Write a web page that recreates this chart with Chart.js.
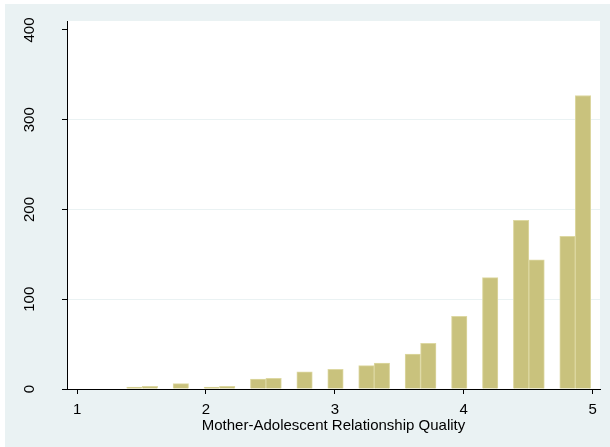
<!DOCTYPE html>
<html>
<head>
<meta charset="utf-8">
<script src="https://cdn.jsdelivr.net/npm/chart.js@4.4.0/dist/chart.umd.min.js"></script>
<style>
  html, body { margin: 0; padding: 0; background: #fff; }
  #wrap { width: 610px; height: 447px; position: relative; }
</style>
</head>
<body>
<div id="wrap"><canvas id="chart_histogram"></canvas></div>
<script>
// bin midpoints (width 0.12) and frequencies
var binCenters = [1.445, 1.565, 1.805, 2.045, 2.165, 2.405, 2.525, 2.765, 3.005, 3.245,
                  3.365, 3.605, 3.725, 3.965, 4.205, 4.445, 4.565, 4.805, 4.925];
var frequencies = [2, 3, 6, 2, 3, 11, 12, 19, 22, 26,
                   29, 39, 51, 81, 124, 188, 144, 170, 327];
var xTicks = [1, 2, 3, 4, 5];
var yTicks = [0, 100, 200, 300, 400];

var bgColor = '#eaf2f3';
var fontFamily = '"Liberation Sans", Arial, Helvetica, sans-serif';

var chart_histogram = new Chart(document.getElementById('chart_histogram'), {
    type: 'bar',
    data: {
        datasets: [
            {
                label: 'Frequency',
                data: binCenters.map(function (x, i) { return { x: x, y: frequencies[i] }; }),
                backgroundColor: '#c9c27d',
                borderColor: '#ddd8a2',
                borderWidth: 1,
                barPercentage: 1,
                categoryPercentage: 1
            }
        ]
    },
    options: {
        animation: false,
        responsive: true,
        maintainAspectRatio: false,
        events: [],
        layout: {
            padding: { left: 0, top: 21, right: 10, bottom: 0 }
        },
        plugins: {
            legend: { display: false },
            tooltip: { enabled: false }
        },
        scales: {
            x: {
                type: 'linear',
                offset: false,
                min: 0.922,
                max: 5.057,
                afterBuildTicks: function (scale) {
                    scale.ticks = xTicks.map(function (v) { return { value: v }; });
                },
                afterFit: function (scale) {
                    scale.height = 58;
                    scale.paddingLeft = 0;
                    scale.paddingRight = 0;
                },
                grid: {
                    offset: false,
                    drawOnChartArea: false,
                    tickLength: 5,
                    tickColor: '#000'
                },
                border: { color: '#000', width: 1 },
                ticks: {
                    color: '#000',
                    padding: 7,
                    maxRotation: 0,
                    font: { family: fontFamily, size: 15 }
                },
                title: {
                    display: true,
                    text: 'Mother-Adolescent Relationship Quality',
                    color: '#000',
                    padding: { top: 0, bottom: 12 },
                    font: { family: fontFamily, size: 15 }
                }
            },
            y: {
                type: 'linear',
                min: 0,
                max: 410,
                afterBuildTicks: function (scale) {
                    scale.ticks = yTicks.map(function (v) { return { value: v }; });
                },
                afterFit: function (scale) {
                    scale.width = 67;
                    scale.paddingTop = 0;
                    scale.paddingBottom = 0;
                },
                grid: {
                    color: function (ctx) {
                        var v = ctx.tick ? ctx.tick.value : 0;
                        return (v === 0 || v === 400) ? 'rgba(0,0,0,0)' : bgColor;
                    },
                    lineWidth: 1,
                    tickLength: 5,
                    tickColor: '#000'
                },
                border: { color: '#000', width: 1 },
                ticks: {
                    color: '#000',
                    padding: 20,
                    minRotation: 90,
                    maxRotation: 90,
                    crossAlign: 'center',
                    font: { family: fontFamily, size: 15 }
                }
            }
        }
    },
    plugins: [{
        id: 'stataBackground',
        beforeDraw: function (chart) {
            var ctx = chart.ctx;
            var a = chart.chartArea;
            ctx.save();
            ctx.fillStyle = '#ffffff';
            ctx.fillRect(0, 0, chart.width, chart.height);
            ctx.fillStyle = bgColor;
            ctx.fillRect(5, 4, chart.width - 5, chart.height - 4);
            ctx.fillStyle = '#ffffff';
            ctx.fillRect(a.left, a.top, a.right - a.left, a.bottom - a.top);
            ctx.restore();
        }
    }]
});
</script>
</body>
</html>
